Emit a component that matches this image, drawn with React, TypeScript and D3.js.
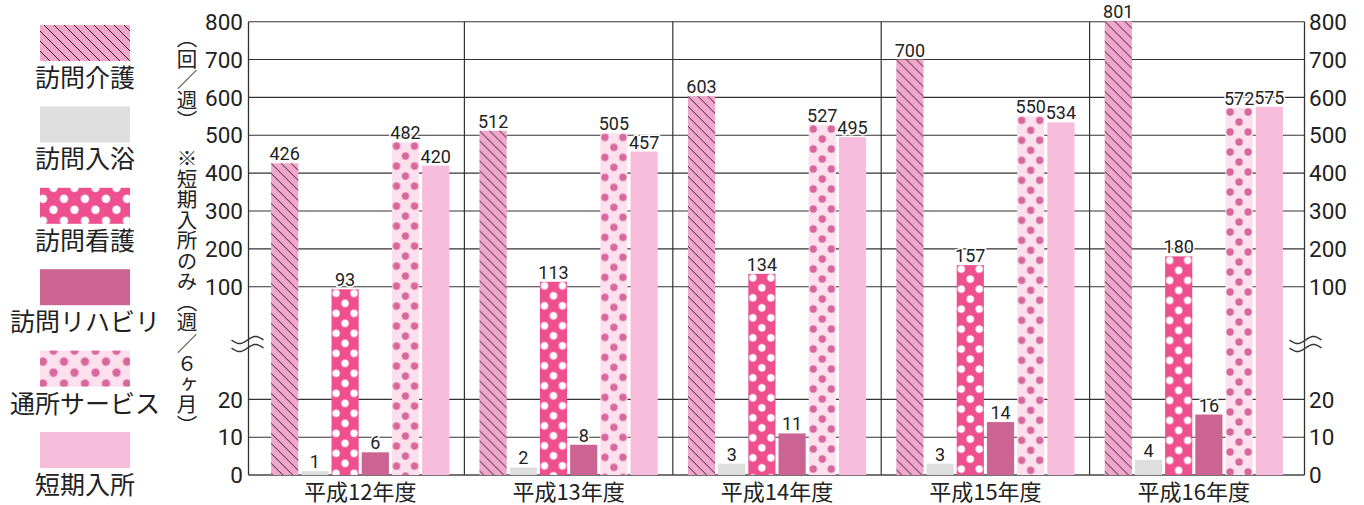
import React from 'react';
import * as d3 from 'd3';

// data
const categories = ['平成12年度', '平成13年度', '平成14年度', '平成15年度', '平成16年度'];
const seriesNames = ['訪問介護', '訪問入浴', '訪問看護', '訪問リハビリ', '通所サービス', '短期入所'];
const homeCare = [426, 512, 603, 700, 801];
const homeBath = [1, 2, 3, 3, 4];
const homeNursing = [93, 113, 134, 157, 180];
const homeRehab = [6, 8, 11, 14, 16];
const dayService = [482, 505, 527, 550, 572];
const shortStay = [420, 457, 495, 534, 575];
const upperTicks = [100, 200, 300, 400, 500, 600, 700, 800];
const lowerTicks = [0, 10, 20];

const series = [homeCare, homeBath, homeNursing, homeRehab, dayService, shortStay];

type Fill =
  | { kind: 'hatch'; bg: string; line: string }
  | { kind: 'dots'; bg: string; dot: string }
  | { kind: 'solid'; bg: string };

const fills: Fill[] = [
  { kind: 'hatch', bg: '#f2a6cc', line: '#262626' },
  { kind: 'solid', bg: '#dedede' },
  { kind: 'dots', bg: '#ee4f8f', dot: '#ffffff' },
  { kind: 'solid', bg: '#cb6393' },
  { kind: 'dots', bg: '#fde0ee', dot: '#d8679b' },
  { kind: 'solid', bg: '#f8bcdc' },
];

const W = 1364;
const H = 505;
const axisLeft = 248.5;
const axisRight = 1304.5;
const numFont = 'Roboto, "DejaVu Sans", sans-serif';
const jpFont = '"Noto Sans CJK JP", "Noto Sans", sans-serif';
const ink = '#222';

// broken value axis: two linear pieces
const yLow = d3.scaleLinear().domain([0, 20]).range([475, 399.4]);
const yHigh = d3.scaleLinear().domain([100, 800]).range([286.7, 21.7]);
const y = (v: number) => (v < 50 ? yLow(v) : yHigh(v));
const breakY = 344;

const x0 = d3.scaleBand<string>().domain(categories).range([256, 1298]).padding(0);
const x1 = d3
  .scaleBand<string>()
  .domain(seriesNames)
  .range([0, x0.bandwidth()])
  .paddingInner(0.1)
  .paddingOuter(0.5);

function patternFor(id: string, f: Fill, left: number, cx: number, top: number, big: boolean) {
  if (f.kind === 'hatch') {
    const s = 10;
    return (
      <pattern key={id} id={id} patternUnits="userSpaceOnUse" x={left} y={top} width={s} height={s}>
        <rect width={s} height={s} fill={f.bg} />
        <path
          d={`M-1,-1L${s + 1},${s + 1}M${-s / 2 - 1},${s / 2 - 1}L${s / 2 + 1},${1.5 * s + 1}M${s / 2 - 1},${-s / 2 - 1}L${1.5 * s + 1},${s / 2 + 1}`}
          stroke={f.line}
          strokeWidth={1}
        />
      </pattern>
    );
  }
  if (f.kind === 'dots') {
    const w = big ? 21 : 18;
    const h = big ? 22 : 20;
    const r = big ? 4.2 : 3.7;
    const pts = [
      [0, 0],
      [w, 0],
      [w / 2, h / 2],
      [0, h],
      [w, h],
    ];
    return (
      <pattern key={id} id={id} patternUnits="userSpaceOnUse" x={cx - w / 2} y={top + 4} width={w} height={h}>
        <rect width={w} height={h} fill={f.bg} />
        {pts.map(([px, py], i) => (
          <circle key={i} cx={px} cy={py} r={r} fill={f.dot} />
        ))}
      </pattern>
    );
  }
  return null;
}

const fillRef = (id: string, f: Fill) => (f.kind === 'solid' ? f.bg : `url(#${id})`);

// one tilde stroke of the "≈" axis-break sign
function wave(cx: number, cy: number) {
  const xs = d3.range(-16, 16.5, 1);
  const line = d3
    .line<number>()
    .x((d) => cx + d)
    .y((d) => cy - 3.5 * Math.sin((d / 16) * Math.PI));
  return line(xs) || '';
}

export default function App() {
  const defs: React.ReactNode[] = [];
  const bars: React.ReactNode[] = [];
  const labels: React.ReactNode[] = [];

  series.forEach((vals, si) => {
    const f = fills[si];
    vals.forEach((v, gi) => {
      const bx = (x0(categories[gi]) || 0) + (x1(seriesNames[si]) || 0);
      const bw = x1.bandwidth();
      const top = y(v);
      const id = `p-${si}-${gi}`;
      const p = patternFor(id, f, bx, bx + bw / 2, top, false);
      if (p) defs.push(p);
      bars.push(<rect key={id} x={bx} y={top} width={bw} height={y(0) - top} fill={fillRef(id, f)} />);
      labels.push(
        <text
          key={`l-${id}`}
          x={bx + bw / 2}
          y={top - 3}
          textAnchor="middle"
          fontFamily={numFont}
          fontSize={18}
          fill={ink}
          stroke="#fff"
          strokeWidth={3}
          paintOrder="stroke"
        >
          {v}
        </text>
      );
    });
  });

  const legendTop = 25;
  const legendStep = 81.4;
  const legend = seriesNames.map((name, si) => {
    const f = fills[si];
    const ly = legendTop + si * legendStep;
    const id = `pl-${si}`;
    const p = patternFor(id, f, 40, 85, ly - 4, true);
    if (p) defs.push(p);
    return (
      <g key={id}>
        <rect x={40} y={ly} width={90} height={36} fill={fillRef(id, f)} />
        <text x={85} y={ly + 62} textAnchor="middle" fontFamily={jpFont} fontSize={25} fill={ink}>
          {name}
        </text>
      </g>
    );
  });

  const gridVals = [...upperTicks, 10, 20];

  return (
    <svg
      width={W}
      height={H}
      viewBox={`0 0 ${W} ${H}`}
      style={{ position: 'absolute', left: 0, top: 0, display: 'block', background: '#fff' }}
    >
      <defs>{defs}</defs>

      {/* grid */}
      {gridVals.map((v) => (
        <line key={`g${v}`} x1={axisLeft} x2={axisRight} y1={y(v)} y2={y(v)} stroke="#333" strokeWidth={1.1} />
      ))}
      {categories.slice(1).map((c) => (
        <line key={`s${c}`} x1={x0(c)} x2={x0(c)} y1={y(800)} y2={y(0)} stroke="#333" strokeWidth={1.2} />
      ))}
      <line x1={axisLeft} x2={axisRight} y1={y(0)} y2={y(0)} stroke="#444" strokeWidth={1.4} />
      <line x1={axisLeft} x2={axisLeft} y1={y(800)} y2={y(0)} stroke="#333" strokeWidth={1.3} />
      <line x1={axisRight} x2={axisRight} y1={y(800)} y2={y(0)} stroke="#333" strokeWidth={1.3} />

      {bars}
      {labels}

      {/* tick labels */}
      {[...upperTicks, ...lowerTicks].map((v) => (
        <g key={`t${v}`} fontFamily={numFont} fontSize={22.5} fill={ink}>
          <text x={243} y={y(v)} dy="0.36em" textAnchor="end">
            {v}
          </text>
          <text x={1309} y={y(v)} dy="0.36em" textAnchor="start">
            {v}
          </text>
        </g>
      ))}

      {/* axis break marks */}
      {[axisLeft - 1, axisRight + 1].map((cx) => (
        <g key={`b${cx}`} fill="none" stroke="#333" strokeWidth={1.4}>
          <path d={wave(cx, breakY - 4)} />
          <path d={wave(cx, breakY + 4)} />
        </g>
      ))}

      {/* category labels */}
      {categories.map((c) => (
        <text
          key={`c${c}`}
          x={(x0(c) || 0) + x0.bandwidth() / 2}
          y={500}
          textAnchor="middle"
          fontFamily={jpFont}
          fontSize={22}
          fill={ink}
        >
          {c}
        </text>
      ))}

      {/* vertical unit titles */}
      <text x={187} y={28} fontFamily={jpFont} fontSize={20.5} fill={ink} style={{ writingMode: 'vertical-rl' }}>
        （回／週）
      </text>
      <text x={187} y={148} fontFamily={jpFont} fontSize={20.5} fill={ink} style={{ writingMode: 'vertical-rl' }}>
        ※短期入所のみ（週／６ヶ月）
      </text>

      {legend}
    </svg>
  );
}
